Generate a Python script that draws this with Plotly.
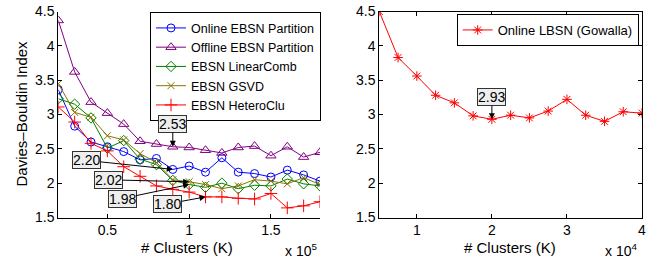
import plotly.graph_objects as go

# ---- data ----
k_left = [20000, 30000, 40000, 50000, 60000, 70000, 80000, 90000, 100000,
          110000, 120000, 130000, 140000, 150000, 160000, 170000, 180000]
online_ebsn = [3.36, 2.83, 2.60, 2.53, 2.46, 2.34, 2.36, 2.20, 2.25, 2.16, 2.37, 2.16, 2.14, 2.09, 2.19, 2.12, 2.03]
offline_ebsn = [4.37, 3.62, 3.18, 3.02, 2.86, 2.61, 2.57, 2.53, 2.52, 2.48, 2.44, 2.52, 2.54, 2.40, 2.53, 2.38, 2.45]
linear_comb = [3.23, 3.15, 2.95, 2.51, 2.62, 2.35, 2.27, 2.04, 1.98, 1.94, 2.00, 1.92, 1.97, 1.96, 2.06, 1.99, 1.96]
gsvd = [3.45, 3.03, 2.96, 2.69, 2.63, 2.43, 2.30, 2.05, 2.02, 1.98, 1.92, 1.96, 2.05, 2.03, 1.99, 2.08, 1.98]
hetero_clu = [3.11, 2.89, 2.58, 2.47, 2.24, 2.10, 1.96, 1.91, 1.87, 1.80, 1.80, 1.78, 1.77, 1.85, 1.64, 1.67, 1.73]

k_right = [5000, 7500, 10000, 12500, 15000, 17500, 20000, 22500, 25000,
           27500, 30000, 32500, 35000, 37500, 40000]
gowalla = [4.50, 3.83, 3.56, 3.28, 3.17, 2.98, 2.93, 2.99, 2.95, 3.05, 3.22, 2.99, 2.90, 3.04, 3.02]

left_tickvals = [50000, 100000, 150000]
left_ticktext = ["0.5", "1", "1.5"]
right_tickvals = [10000, 20000, 30000, 40000]
right_ticktext = ["1", "2", "3", "4"]

# annotated callouts: (axis, x, y, label, ax, ay)
callouts = [
    ("left", 90000, 2.53, "2.53", 0, -23),
    ("left", 90000, 2.20, "2.20", -86, -9),
    ("left", 100000, 2.02, "2.02", -81, -2),
    ("left", 100000, 1.98, "1.98", -67, 14),
    ("left", 110000, 1.80, "1.80", -38, 7),
    ("right", 20000, 2.93, "2.93", 0, -22),
]

FONT = "Liberation Sans, Arial, Helvetica, sans-serif"
W, H = 657, 264

fig = go.Figure()

series = [
    ("Online EBSN Partition", online_ebsn, "#0000ff", "circle-open", 8),
    ("Offline EBSN Partition", offline_ebsn, "#800080", "triangle-up-open", 9),
    ("EBSN LinearComb", linear_comb, "#008000", "diamond-open", 8),
    ("EBSN GSVD", gsvd, "#8c7400", "x-thin-open", 7),
    ("EBSN HeteroClu", hetero_clu, "#ff0000", "cross-thin-open", 9),
]
for name, vals, col, sym, sz in series:
    fig.add_trace(go.Scatter(
        x=k_left, y=vals, name=name, mode="lines+markers",
        line=dict(color=col, width=1),
        marker=dict(symbol=sym, size=sz, color=col, line=dict(color=col, width=1)),
        xaxis="x", yaxis="y", legend="legend"))

fig.add_trace(go.Scatter(
    x=k_right, y=gowalla, name="Online LBSN (Gowalla)", mode="lines+markers",
    line=dict(color="#ff0000", width=1),
    marker=dict(symbol="asterisk-open", size=8, color="#ff0000", line=dict(color="#ff0000", width=1)),
    xaxis="x2", yaxis="y2", legend="legend2"))

axis_common = dict(
    showgrid=False, zeroline=False, showline=True, linecolor="black", linewidth=1,
    ticks="inside", ticklen=4, tickcolor="black", automargin=False,
    tickfont=dict(family=FONT, size=14, color="black"),
)

ydom = [1 - 217.5 / H, 1 - 11.5 / H]

fig.update_layout(
    width=W, height=H, autosize=False,
    margin=dict(l=0, r=0, t=0, b=0, pad=0, autoexpand=False),
    paper_bgcolor="white", plot_bgcolor="white",
    font=dict(family=FONT, size=13, color="black"),
    xaxis=dict(domain=[58.3 / W, 320 / W], range=[20000, 180000],
               tickvals=left_tickvals, ticktext=left_ticktext, anchor="y", **axis_common),
    yaxis=dict(domain=ydom, range=[1.5, 4.5], dtick=0.5, anchor="x", **axis_common),
    xaxis2=dict(domain=[379.3 / W, 642 / W], range=[5000, 40000],
                tickvals=right_tickvals, ticktext=right_ticktext, anchor="y2",
                mirror="ticks", **axis_common),
    yaxis2=dict(domain=ydom, range=[1.5, 4.5], dtick=0.5, anchor="x2",
                mirror="ticks", **axis_common),
    legend=dict(x=150 / W, y=1 - 12.3 / H, xanchor="left", yanchor="top",
                bgcolor="white", bordercolor="black", borderwidth=1,
                font=dict(family=FONT, size=12.5), tracegroupgap=0,
                itemwidth=30),
    legend2=dict(x=456.7 / W, y=1 - 14 / H, xanchor="left", yanchor="top",
                 bgcolor="white", bordercolor="black", borderwidth=1,
                 font=dict(family=FONT, size=13), itemwidth=30),
    showlegend=True,
)

annotations = []
for axis, x, y, label, ax, ay in callouts:
    xr, yr = ("x", "y") if axis == "left" else ("x2", "y2")
    annotations.append(dict(
        x=x, y=y, xref=xr, yref=yr, text=label, showarrow=True,
        ax=ax, ay=ay, arrowhead=2, arrowsize=1.2, arrowwidth=1, arrowcolor="black",
        bgcolor="#eeeeee", bordercolor="#333333", borderwidth=1, borderpad=0,
        font=dict(family=FONT, size=14, color="black")))

# axis titles and exponent labels
annotations += [
    dict(text="# Clusters (K)", x=187 / W, y=1 - 247 / H, xref="paper", yref="paper",
         showarrow=False, xanchor="center", yanchor="middle", font=dict(size=15)),
    dict(text="# Clusters (K)", x=510 / W, y=1 - 247 / H, xref="paper", yref="paper",
         showarrow=False, xanchor="center", yanchor="middle", font=dict(size=15)),
    dict(text="Davies\u2013Bouldin Index", x=20.5 / W, y=1 - 114 / H, xref="paper", yref="paper",
         showarrow=False, textangle=-90, xanchor="center", yanchor="middle", font=dict(size=15)),
    dict(text="x 10<sup>5</sup>", x=301 / W, y=1 - 250 / H, xref="paper", yref="paper",
         showarrow=False, xanchor="center", yanchor="middle", font=dict(size=14)),
    dict(text="x 10<sup>4</sup>", x=621 / W, y=1 - 250 / H, xref="paper", yref="paper",
         showarrow=False, xanchor="center", yanchor="middle", font=dict(size=14)),
]
fig.update_layout(annotations=annotations)

fig.write_html("out.html", config={"displayModeBar": False, "responsive": False},
               post_script="document.body.style.margin='0';")
